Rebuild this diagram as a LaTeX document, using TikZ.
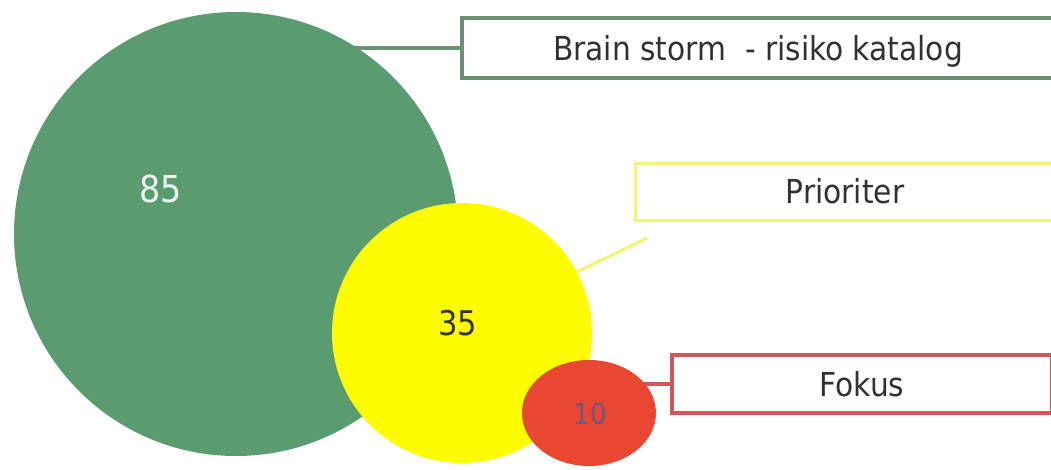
\documentclass[tikz,border=0pt]{standalone}
\usepackage{fontspec}
\setmainfont{DejaVu Sans Condensed}
\usetikzlibrary{shapes.geometric}
\pgfdeclarelayer{bg}
\pgfsetlayers{bg,main}
\definecolor{cgreen}{RGB}{90,156,112}
\definecolor{cgreenline}{RGB}{104,146,114}
\definecolor{cyellow}{RGB}{255,252,0}
\definecolor{cyellowline}{RGB}{244,244,110}
\definecolor{cred}{RGB}{232,72,50}
\definecolor{credline}{RGB}{212,84,92}
\definecolor{ctext}{RGB}{50,50,50}
\definecolor{cwhite}{RGB}{236,244,236}
\definecolor{cten}{RGB}{110,85,130}
\begin{document}
\begin{tikzpicture}[x=1pt,y=-1pt,
 bubble/.style={circle, inner sep=0pt, draw=none},
 labelbox/.style={rectangle, fill=white, line width=3.5pt, inner sep=0pt, text height=24pt, text depth=0pt, font=\fontsize{33}{40}\selectfont, text=ctext},
 num/.style={inner sep=0pt, text height=25pt, text depth=0pt, font=\fontsize{34}{40}\selectfont},
 link/.style={line width=3.5pt}]
\useasboundingbox (0,0) rectangle (1051,469);
\begin{pgfonlayer}{bg}
\fill[white] (0,0) rectangle (1051,469);
\end{pgfonlayer}
\begin{scope}
\clip (0,0) rectangle (1051,469);
\node[bubble, fill=cgreen, minimum size=444pt] (g) at (236,234) {};
\node[bubble, fill=cyellow, minimum size=260pt] (y) at (462,333) {};
\node[ellipse, inner sep=0pt, fill=cred, minimum width=134pt, minimum height=106pt] (r) at (589,413) {};
\node[num, font=\fontsize{37}{44}\selectfont, text height=27pt, text=cwhite] (n85) at (161,189) {85};
\node[num, text=ctext] (n35) at (458,323) {35};
\node[num, font=\fontsize{29}{34}\selectfont, text height=21pt, text=cten] (n10) at (590,414) {10};
\node[labelbox, draw=cgreenline, minimum width=592pt, minimum height=60pt] (gb) at (758,48) {Brain storm\ \ - risiko katalog};
\node[labelbox, draw=cyellowline, line width=3pt, minimum width=420pt, minimum height=57pt] (yb) at (845,191.5) {Prioriter};
\node[labelbox, draw=credline, minimum width=380pt, minimum height=58pt] (rb) at (862,384) {Fokus};
\coordinate (yend) at (647,238);
\draw[link, cyellowline, line width=3pt] (y.28) -- (yend);
\end{scope}
\begin{pgfonlayer}{bg}
\draw[link, cgreenline] (gb.west) -- (gb.west -| g.center);
\draw[link, credline] (rb.west) -- (rb.west -| r.center);
\end{pgfonlayer}
\end{tikzpicture}
\end{document}
